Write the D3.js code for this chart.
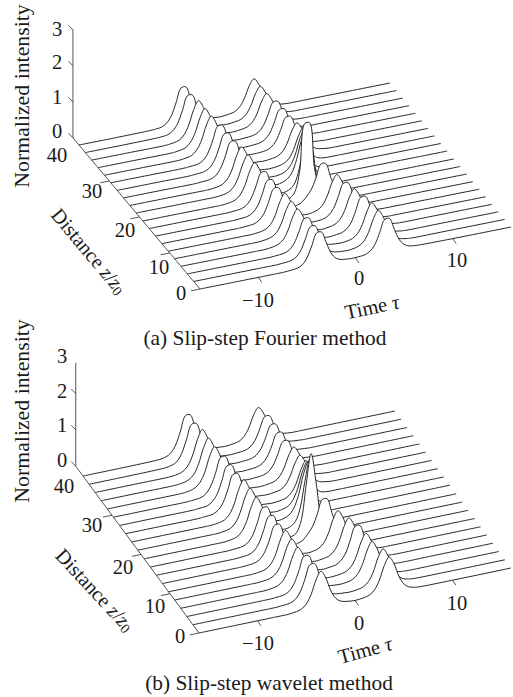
<!DOCTYPE html>
<html>
<head>
<meta charset="utf-8">
<script src="https://cdn.jsdelivr.net/npm/d3@7"></script>
<style>
html, body { margin: 0; padding: 0; background: #fff; }
text { font-family: "Liberation Serif", serif; fill: #1a1a1a; }
</style>
</head>
<body>
<script>
// time samples of every row, the far left and right stay flat
const tauGrid = [-16, -12, -8.5, -8, -7.5, -7, -6.5, -6, -5.5, -5, -4.5, -4, -3.5, -3, -2.5, -2, -1.5,
  -1, -0.5, 0, 0.5, 1, 1.5, 2, 2.5, 3, 3.5, 4, 4.5, 5, 5.5, 6, 6.5, 10, 16];

// distance of each row, back to front
const zRows = [40, 37.9, 35.8, 33.7, 31.6, 29.5, 27.4, 25.3, 23.2, 21.1, 18.9, 16.8, 14.7, 12.6, 10.5, 8.4, 6.3, 4.2, 2.1, 0];

const zTicks = [0, 10, 20, 30, 40];
const tauTicks = [-10, 0, 10];
const intensityTicks = [0, 1, 2, 3];

// intensity, values between tau -8.5 and 6.5
const fourierRows = [
  [.01,.02,.04,.12,.30,.65,1.02,1.02,.65,.30,.12,.04,.02,.01,0, .01,.03,.06,.16,.37,.69,.87,.69,.37,.16,.06,.03,.01,0,0,0],
  [.01,.02,.04,.12,.30,.64,1.01,1.01,.64,.30,.12,.04,.02,.01,0, .01,.03,.06,.16,.37,.69,.87,.69,.37,.16,.06,.03,.01,0,0,0],
  [0,.01,.03,.07,.19,.45,.84,1.06,.84,.45,.19,.07,.03,.01,0, .01,.03,.06,.16,.37,.70,.88,.70,.37,.16,.06,.03,.01,0,0,0],
  [0,.01,.03,.07,.19,.44,.83,1.05,.83,.44,.19,.07,.03,.01,0, .01,.02,.04,.10,.25,.54,.85,.85,.54,.25,.10,.04,.02,.01,0,0],
  [0,.01,.03,.07,.19,.44,.83,1.05,.83,.44,.19,.07,.03,.01,0, .01,.02,.04,.10,.25,.54,.85,.85,.54,.25,.10,.04,.02,.01,0,0],
  [0,.01,.02,.04,.11,.29,.62,.98,.98,.62,.29,.11,.04,.02,.01, .01,.02,.04,.10,.25,.54,.85,.85,.54,.25,.10,.04,.02,.01,0,0],
  [0,.01,.02,.04,.11,.29,.62,.97,.97,.62,.29,.11,.04,.02,.01, 0,.01,.03,.06,.16,.37,.70,.88,.70,.37,.16,.06,.03,.01,0,0],
  [0,.01,.02,.04,.11,.29,.61,.96,.96,.61,.29,.11,.04,.02,.01, 0,.01,.03,.07,.17,.40,.75,.95,.60,.15,.04,.01,0,0,0,0],
  [0,0,.01,.03,.07,.18,.42,.80,1.01,.80,.42,.18,.07,.03,.01, .01,.03,.08,.21,.48,.91,1.15,.65,.12,.02,0,0,0,0,0,0],
  [0,0,.01,.03,.07,.18,.42,.79,1,.79,.42,.18,.07,.03,.01, .04,.10,.25,.59,1.11,1.4,.9,.2,.03,0,0,0,0,0,0,0],
  [0,0,.01,.03,.07,.18,.42,.79,1,.79,.42,.18,.07,.03,.01, .05,.15,.48,1.17,1.7,1.0,.2,.03,0,0,0,0,0,0,0,0],
  [0,0,.01,.02,.04,.11,.28,.59,.93,.93,.59,.28,.11,.04,.07, .22,.79,2.05,2.05,.79,.22,.05,.01,0,0,0,0,0,0,0,0],
  [0,0,.01,.02,.04,.11,.27,.59,.92,.92,.59,.27,.11,.04,.07, .12,.25,.42,.72,1.08,1.08,.69,.32,.13,.05,.02,.01,0,0,0,0],
  [0,0,.01,.02,.04,.11,.27,.58,.91,.91,.58,.27,.11,.04,.02, .01,.03,.07,.17,.40,.75,.95,.75,.40,.17,.07,.03,.01,0,0,0],
  [0,0,0,.01,.03,.07,.17,.40,.76,.96,.76,.40,.17,.07,.03, .01,.02,.04,.11,.27,.58,.91,.91,.58,.27,.11,.04,.02,.01,0,0],
  [0,0,0,.01,.03,.07,.17,.40,.75,.95,.75,.40,.17,.07,.03, 0,.01,.03,.07,.17,.40,.75,.95,.75,.40,.17,.07,.03,.01,0,0],
  [0,0,0,.01,.03,.07,.17,.40,.75,.95,.75,.40,.17,.07,.03, 0,0,.02,.04,.11,.27,.59,.92,.92,.59,.27,.11,.04,.02,.01,0],
  [0,0,0,.01,.02,.04,.10,.26,.56,.88,.88,.56,.26,.10,.04, .02,.01,.01,.03,.07,.17,.40,.75,.95,.75,.40,.17,.07,.03,.01,0],
  [0,0,0,.01,.02,.04,.10,.26,.56,.87,.87,.56,.26,.10,.04, .02,.01,.01,.03,.07,.17,.40,.75,.95,.75,.40,.17,.07,.03,.01,0],
  [0,0,0,.01,.02,.04,.10,.27,.58,.91,.91,.58,.27,.10,.04, .02,.01,.01,.02,.04,.11,.27,.58,.91,.91,.58,.27,.11,.04,.02,.01]
];

const waveletRows = [
  [.01,.02,.05,.13,.32,.68,1.07,1.07,.68,.32,.13,.05,.02,.01,0, .01,.03,.06,.16,.37,.70,.88,.70,.37,.16,.06,.03,.01,0,0,0],
  [.01,.02,.05,.12,.32,.68,1.06,1.06,.68,.32,.12,.05,.02,.01,0, .01,.02,.04,.10,.25,.54,.85,.85,.54,.25,.10,.04,.02,.01,0,0],
  [0,.01,.03,.08,.20,.47,.88,1.12,.88,.47,.20,.08,.03,.01,0, .01,.02,.04,.10,.25,.54,.85,.85,.54,.25,.10,.04,.02,.01,0,0],
  [0,.01,.03,.08,.20,.47,.88,1.11,.88,.47,.20,.08,.03,.01,0, .01,.02,.04,.10,.25,.54,.85,.85,.54,.25,.10,.04,.02,.01,0,0],
  [0,.01,.03,.08,.20,.46,.87,1.10,.87,.46,.20,.08,.03,.01,0, .01,.02,.04,.10,.25,.54,.85,.85,.54,.25,.10,.04,.02,.01,0,0],
  [0,.01,.02,.04,.12,.31,.65,1.03,1.03,.65,.31,.12,.04,.02,.01, 0,.01,.03,.06,.16,.38,.71,.90,.71,.38,.16,.06,.03,.01,0,0],
  [0,.01,.02,.04,.12,.30,.65,1.02,1.02,.65,.30,.12,.04,.02,.01, 0,.01,.03,.06,.16,.38,.71,.90,.71,.38,.16,.06,.03,.01,0,0],
  [0,.01,.02,.04,.12,.30,.64,1.01,1.01,.64,.30,.12,.04,.02,.01, 0,.01,.03,.07,.18,.41,.77,.98,.62,.16,.04,.01,0,0,0,0],
  [0,0,.01,.03,.07,.19,.45,.85,1.07,.85,.45,.19,.07,.03,.01, .01,.04,.08,.22,.50,.95,1.2,.68,.12,.02,0,0,0,0,0,0],
  [0,0,.01,.03,.07,.19,.45,.84,1.06,.84,.45,.19,.07,.03,.01, .04,.10,.26,.61,1.15,1.45,.95,.2,.03,0,0,0,0,0,0,0],
  [0,0,.01,.03,.07,.19,.44,.83,1.05,.83,.44,.19,.07,.03,.01, .05,.16,.50,1.24,1.8,1.05,.22,.03,0,0,0,0,0,0,0,0],
  [0,0,.01,.02,.04,.11,.29,.62,.98,.98,.62,.29,.11,.04,.03, .11,.44,1.39,2.2,1.39,.44,.11,.03,0,0,0,0,0,0,0,0],
  [0,0,.01,.02,.04,.11,.29,.62,.97,.97,.62,.29,.11,.04,.07, .12,.26,.44,.76,1.13,1.13,.72,.34,.13,.06,.02,.01,0,0,0,0],
  [0,0,.01,.02,.04,.11,.29,.61,.96,.96,.61,.29,.11,.04,.02, .01,.03,.07,.18,.42,.79,1,.79,.42,.18,.07,.03,.01,0,0,0],
  [0,0,0,.01,.03,.07,.18,.43,.81,1.02,.81,.43,.18,.07,.03, 0,.01,.03,.07,.18,.42,.79,1,.79,.42,.18,.07,.03,.01,0,0],
  [0,0,0,.01,.03,.07,.18,.42,.80,1.01,.80,.42,.18,.07,.03, 0,0,.02,.04,.12,.29,.63,.99,.99,.63,.29,.12,.04,.02,.01,0],
  [0,0,0,.01,.03,.07,.18,.42,.80,1.01,.80,.42,.18,.07,.03, 0,0,.01,.03,.07,.18,.42,.79,1,.79,.42,.18,.07,.03,.01,0],
  [0,0,0,.01,.02,.04,.11,.29,.62,.98,.98,.62,.29,.11,.04, .02,.01,.01,.03,.07,.18,.42,.79,1,.79,.42,.18,.07,.03,.01,0],
  [0,0,0,.01,.02,.04,.11,.29,.62,.98,.98,.62,.29,.11,.04, .02,.01,0,.01,.03,.07,.18,.42,.79,1,.79,.42,.18,.07,.03,.01],
  [0,0,0,0,.01,.03,.07,.18,.42,.79,1,.79,.42,.18,.07, .03,.01,0,.01,.03,.07,.18,.42,.79,1,.79,.42,.18,.07,.03,.01]
];

const svg = d3.select("body").append("svg")
  .attr("width", 513)
  .attr("height", 697)
  .style("display", "block");

const lineColor = "#2b2b2b";

function drawPanel(p) {
  let g = svg.append("g");

  // oblique projection, one scale per direction
  let tauX = d3.scaleLinear().domain([-16, 16]).range([0, p.tauDx]);
  let tauY = d3.scaleLinear().domain([-16, 16]).range([0, p.tauDy]);
  let zX = d3.scaleLinear().domain([0, 40]).range([0, p.zDx]);
  let zY = d3.scaleLinear().domain([0, 40]).range([0, p.zDy]);
  let valY = d3.scaleLinear().domain([0, 3]).range([0, p.valH]);

  let px = (t, z) => p.x0 + tauX(t) + zX(z);
  let py = (t, z, v) => p.y0 + tauY(t) + zY(z) - valY(v);

  let seg = (x1, y1, x2, y2, col) => g.append("line")
    .attr("x1", x1).attr("y1", y1).attr("x2", x2).attr("y2", y2)
    .attr("stroke", col || lineColor).attr("stroke-width", 0.8);

  // axes
  let zEnd = p.zEnd;
  seg(px(-16, 0), py(-16, 0, 0), px(-16, zEnd), py(-16, zEnd, 0));
  seg(px(-16, zEnd), py(-16, zEnd, 0), px(-16, zEnd), py(-16, zEnd, p.valTop));

  p.valTicks.forEach(v => {
    seg(px(-16, zEnd), py(-16, zEnd, v), px(-16, zEnd) - 4.5, py(-16, zEnd, v) - 4.5);
  });
  zTicks.filter(z => z < 40).forEach(z => {
    seg(px(-16, z), py(-16, z, 0), px(-16, z) - 9, py(-16, z, 0) + 1.8);
  });
  tauTicks.forEach(t => {
    seg(px(t, 0), py(t, 0, 0), px(t, 0) + 3.5, py(t, 0, 0) + 5);
  });

  // waterfall rows back to front, white fill hides what is behind
  let rowLine = d3.line()
    .x(d => d.x)
    .y(d => d.y)
    .curve(d3.curveCatmullRom.alpha(0.5));

  p.rows.forEach((row, i) => {
    let vals = [0, 0].concat(row, [0, 0]);
    let pts = tauGrid.map((t, j) => ({ x: px(t, zRows[i]), y: py(t, zRows[i], vals[j]) }));
    g.append("path")
      .attr("d", rowLine(pts))
      .attr("fill", "#fff")
      .attr("stroke", "#1c1c1c")
      .attr("stroke-width", 0.95);
  });

  // tick labels
  let lab = (x, y, s) => g.append("text")
    .attr("x", x).attr("y", y)
    .attr("text-anchor", "middle")
    .attr("dominant-baseline", "central")
    .style("font-size", "20.5px")
    .text(s);

  intensityTicks.forEach((v, i) => lab(p.valLabels[i][0], p.valLabels[i][1], v));
  zTicks.forEach((z, i) => lab(p.zLabels[i][0], p.zLabels[i][1], z));
  tauTicks.forEach((t, i) => lab(p.tauLabels[i][0], p.tauLabels[i][1], t < 0 ? "\u2212" + Math.abs(t) : t));

  // axis titles
  g.append("text")
    .attr("transform", `translate(${p.valTitle[0]},${p.valTitle[1]}) rotate(-90)`)
    .attr("text-anchor", "middle")
    .attr("dominant-baseline", "central")
    .style("font-size", "21.8px")
    .text("Normalized intensity");

  let zt = g.append("text")
    .attr("transform", `translate(${p.zTitle[0]},${p.zTitle[1]}) rotate(${p.zTitle[2]})`)
    .attr("text-anchor", "middle")
    .attr("dominant-baseline", "central")
    .style("font-size", "20.3px");
  zt.append("tspan").text("Distance ");
  zt.append("tspan").style("font-style", "italic").text("z");
  zt.append("tspan").text("/");
  zt.append("tspan").style("font-style", "italic").text("z");
  zt.append("tspan").attr("dy", 4).style("font-size", "14px").text("0");

  let tt = g.append("text")
    .attr("transform", `translate(${p.tauTitle[0]},${p.tauTitle[1]}) rotate(${p.tauTitle[2]})`)
    .attr("text-anchor", "middle")
    .attr("dominant-baseline", "central")
    .style("font-size", "20.5px");
  tt.append("tspan").text("Time ");
  tt.append("tspan").style("font-style", "italic").text("\u03c4");

  g.append("text")
    .attr("x", p.caption[0]).attr("y", p.caption[1])
    .attr("text-anchor", "middle")
    .attr("dominant-baseline", "central")
    .style("font-size", "21.4px")
    .text(p.caption[2]);
}

drawPanel({
  rows: fourierRows,
  x0: 200, y0: 289, tauDx: 311, tauDy: -62, zDx: -121, zDy: -144, valH: 108,
  zEnd: 42, valTop: 3, valTicks: [0, 1, 2, 3],
  valLabels: [[57, 131], [57, 97], [57, 62], [57, 29]],
  zLabels: [[181, 293], [159, 267], [125, 230], [92, 191], [57, 155]],
  tauLabels: [[258, 300], [359, 278], [457, 260]],
  valTitle: [22, 96],
  zTitle: [89, 251, 50],
  tauTitle: [372, 307, -12],
  caption: [265, 338, "(a) Slip-step Fourier method"]
});

drawPanel({
  rows: waveletRows,
  x0: 199, y0: 633, tauDx: 312, tauDy: -65, zDx: -116, zDy: -157, valH: 109,
  zEnd: 42.5, valTop: 2.85, valTicks: [0, 1, 2],
  valLabels: [[62, 460], [62, 425], [62, 391], [62, 356]],
  zLabels: [[180, 636], [155, 606], [123, 567], [92, 525], [64, 486]],
  tauLabels: [[258, 643], [359, 623], [457, 603]],
  valTitle: [22, 411],
  zTitle: [95, 590, 47],
  tauTitle: [365, 650, -15],
  caption: [269, 683, "(b) Slip-step wavelet method"]
});
</script>
</body>
</html>
